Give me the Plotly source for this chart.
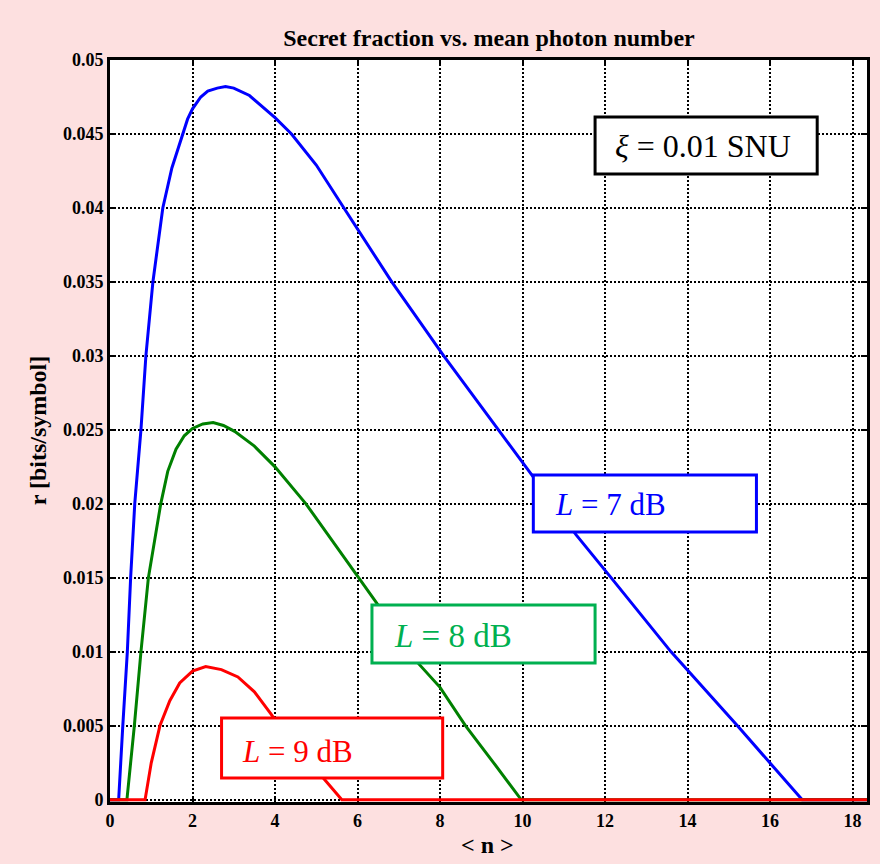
import plotly.graph_objects as go

# Secret key fraction r [bits/symbol] against mean photon number <n>, xi = 0.01 SNU
n_7dB = [0, 0.21, 0.31, 0.42, 0.50, 0.60, 0.75, 0.87, 1.04, 1.28, 1.50, 1.76, 1.88, 2.00,
         2.20, 2.37, 2.60, 2.80, 3.00, 3.38, 4.00, 4.40, 5.00, 5.67, 6.25, 6.83, 8.09, 9.41,
         10.21, 11.30, 12.15, 13.60, 15.21, 16.00, 16.40, 16.78, 18.35]
r_7dB = [0, 0, 0.005, 0.010, 0.015, 0.020, 0.025, 0.030, 0.035, 0.040, 0.0427, 0.045, 0.0460, 0.0467,
         0.0475, 0.0479, 0.0481, 0.0482, 0.0481, 0.0476, 0.0461, 0.045, 0.0429, 0.040, 0.0375, 0.035, 0.030, 0.025,
         0.022, 0.0179, 0.015, 0.010, 0.005, 0.0025, 0.0012, 0, 0]

n_8dB = [0, 0.41, 0.59, 0.75, 0.93, 1.23, 1.40, 1.60, 1.80, 2.00, 2.25, 2.50, 2.75, 3.02, 3.50, 4.00, 4.75,
         5.40, 6.03, 6.44, 7.48, 8.00, 8.62, 9.30, 9.97, 18.35]
r_8dB = [0, 0, 0.005, 0.010, 0.015, 0.020, 0.0222, 0.0237, 0.0246, 0.0251, 0.0254, 0.0255, 0.0253, 0.0249, 0.0239, 0.0225, 0.020,
         0.0175, 0.015, 0.0134, 0.0092, 0.0076, 0.005, 0.0025, 0, 0]

n_9dB = [0, 0.85, 1.00, 1.21, 1.45, 1.69, 2.00, 2.32, 2.70, 3.10, 3.50, 3.90, 4.30, 4.75,
         5.19, 5.62, 18.35]
r_9dB = [0, 0, 0.0025, 0.005, 0.0067, 0.0079, 0.0087, 0.0090, 0.0088, 0.0083, 0.0073, 0.0058, 0.0042, 0.0027,
         0.0014, 0, 0]

x_ticks = [0, 2, 4, 6, 8, 10, 12, 14, 16, 18]
y_ticks = [0, 0.005, 0.01, 0.015, 0.02, 0.025, 0.03, 0.035, 0.04, 0.045, 0.05]
y_tick_text = ["0", "0.005", "0.01", "0.015", "0.02", "0.025", "0.03", "0.035", "0.04", "0.045", "0.05"]

SERIF = "Liberation Serif, Times New Roman, serif"
BG = "#fde0e0"

fig = go.Figure()
for xs, ys, col in [(n_7dB, r_7dB, "#0000ff"), (n_8dB, r_8dB, "#008000"), (n_9dB, r_9dB, "#ff0000")]:
    fig.add_trace(go.Scatter(x=xs, y=ys, mode="lines", line=dict(color=col, width=3)))

axis_common = dict(
    showline=True, linecolor="black", linewidth=3, mirror="all",
    ticks="inside", ticklen=6, tickwidth=2, tickcolor="black",
    showgrid=True, gridcolor="black", gridwidth=2, griddash="2px,2px",
    zeroline=False, layer="below traces",
    tickfont=dict(family=SERIF, size=18, color="black", weight="bold"),
)

fig.update_layout(
    width=880, height=864,
    margin=dict(l=110, r=10, t=60, b=62),
    paper_bgcolor=BG, plot_bgcolor="white",
    showlegend=False,
    title=dict(text="<b>Secret fraction vs. mean photon number</b>",
               x=489 / 880, xanchor="center", y=1 - 38 / 864, yanchor="middle",
               font=dict(family=SERIF, size=24, color="black")),
    xaxis=dict(range=[0, 18.35], tickvals=x_ticks, **axis_common),
    # small negative floor keeps the zero-rate segments visible above the frame
    yaxis=dict(range=[-0.00015, 0.05], tickvals=y_ticks, ticktext=y_tick_text, **axis_common),
)

def px_to_paper(px, py):
    return (px - 110) / 760, (802 - py) / 742

# label boxes: (left, top, right, bottom) in pixel layout, border colour
boxes = [
    ((597, 117, 820, 174), "black"),
    ((535, 475, 759, 532), "#0000ff"),
    ((373, 605, 597, 663), "#00b050"),
    ((222, 718, 444, 778), "#ff0000"),
]
for (l, t, r, b), col in boxes:
    x0, y0 = px_to_paper(l, b)
    x1, y1 = px_to_paper(r, t)
    fig.add_shape(type="rect", xref="paper", yref="paper", x0=x0, y0=y0, x1=x1, y1=y1,
                  line=dict(color=col, width=3), fillcolor="white", layer="above")

labels = [
    ("<i>ξ</i> = 0.01 SNU", 615, 146, "black", 32),
    ("<i>L</i> = 7 dB", 555, 504, "#0000ff", 31),
    ("<i>L</i> = 8 dB", 393, 636, "#00b050", 33),
    ("<i>L</i> = 9 dB", 241, 751, "#ff0000", 31),
]
for txt, lx, ly, col, fs in labels:
    ax_, ay_ = px_to_paper(lx, ly)
    fig.add_annotation(text=txt, xref="paper", yref="paper", x=ax_, y=ay_,
                       xanchor="left", yanchor="middle", showarrow=False,
                       font=dict(family=SERIF, size=fs, color=col))

# axis titles
fig.add_annotation(text="<b>r [bits/symbol]</b>", xref="paper", yref="paper",
                   x=(38 - 110) / 760, y=(802 - 430) / 742, textangle=-90,
                   xanchor="center", yanchor="middle", showarrow=False,
                   font=dict(family=SERIF, size=24, color="black"))
fig.add_annotation(text="<b>&lt; n &gt;</b>", xref="paper", yref="paper",
                   x=(489 - 110) / 760, y=(802 - 845) / 742,
                   xanchor="center", yanchor="middle", showarrow=False,
                   font=dict(family=SERIF, size=24, color="black"))

fig.write_html("out.html")
